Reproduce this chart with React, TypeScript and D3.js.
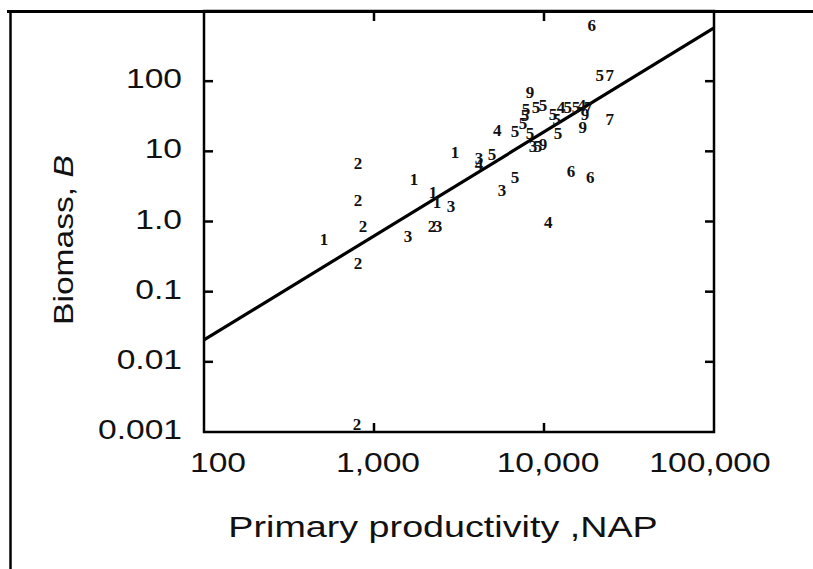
import React from 'react'
import * as d3 from 'd3'

// NAP (x) / biomass B (y) readings, label = group number drawn at the point
const napValues = [
  805, 1718, 2995, 805, 2223, 2350, 2837, 861, 2193, 2377, 508, 1585, 805, 794,
  4150, 4940, 4150, 8280, 8980, 9860, 7830, 7730, 7520, 5300, 6750, 8280, 8610,
  9220, 9860, 6750, 5660, 14400, 18700, 16900, 24400, 12100, 11300, 12600, 13800,
  15400, 16700, 18200, 17400, 21300, 24400, 19100, 10600, 11900
]
const biomassValues = [
  6.8, 4.0, 9.5, 2.0, 2.55, 1.84, 1.61, 0.835, 0.835, 0.835, 0.545, 0.62, 0.256,
  0.00126, 8.0, 8.9, 6.4, 70, 41.5, 45.7, 40, 31.9, 25.3, 20.1, 18.9, 18.2, 11.9,
  11.9, 12.7, 4.3, 2.81, 5.08, 4.17, 22.2, 28, 18.2, 33, 41.5, 41.5, 41.5, 44.3,
  42.8, 33, 122, 122, 631, 0.953, 28
]
const groupLabels = [
  '2', '1', '1', '2', '1', '1', '3', '2', '2', '3', '1', '3', '2', '2',
  '3', '5', '4', '9', '5', '5', '5', '5', '5', '4', '5', '5', '3',
  '5', '9', '5', '3', '6', '6', '9', '7', '5', '5', '4', '5', '5', '4',
  '7', '9', '5', '7', '6', '4', '5'
]

// fitted line end points
const fitX = [100, 100000]
const fitY = [0.0205, 573]

const xTickValues = [100, 1000, 10000, 100000]
const xTickLabels = ['100', '1,000', '10,000', '100,000']
const yTickValues = [0.001, 0.01, 0.1, 1, 10, 100]
const yTickLabels = ['0.001', '0.01', '0.1', '1.0', '10', '100']

const W = 813
const H = 569
const left = 204
const right = 714
const top = 11
const bottom = 432

const sans = '"Liberation Sans", Arial, Helvetica, sans-serif'
const stretch = 1.2

const App = () => {
  const x = d3.scaleLog().domain([100, 100000]).range([left, right])
  const y = d3.scaleLog().domain([0.001, 1000]).range([bottom, top])

  const fitLine = d3.line<number>()
    .x((d, i) => x(fitX[i]))
    .y((d, i) => y(fitY[i]))

  const innerTicks = [1000, 10000]
  const sideTicks = [0.01, 0.1, 1, 10, 100]

  return (
    <svg width={W} height={H} style={{ position: 'absolute', left: 0, top: 0, background: '#fff' }}>
      {/* page frame */}
      <line x1={7} x2={W} y1={11.5} y2={11.5} stroke="#000" strokeWidth={3} />
      <line x1={10.5} x2={10.5} y1={10} y2={H} stroke="#000" strokeWidth={2.5} />

      {/* plot box */}
      <rect x={left} y={top} width={right - left} height={bottom - top}
        fill="none" stroke="#000" strokeWidth={2.5} />

      {sideTicks.map(v => (
        <g key={'yt' + v}>
          <line x1={left} x2={left + 9} y1={y(v)} y2={y(v)} stroke="#000" strokeWidth={2.5} />
          <line x1={right} x2={right - 9} y1={y(v)} y2={y(v)} stroke="#000" strokeWidth={2.5} />
        </g>
      ))}
      {innerTicks.map(v => (
        <g key={'xt' + v}>
          <line x1={x(v)} x2={x(v)} y1={bottom} y2={bottom - 9} stroke="#000" strokeWidth={2.5} />
          <line x1={x(v)} x2={x(v)} y1={top} y2={top + 10} stroke="#000" strokeWidth={2.5} />
        </g>
      ))}

      {/* y tick labels */}
      {yTickValues.map((v, i) => (
        <text key={'yl' + v}
          transform={`translate(182,${y(v) + 7}) scale(${stretch},1)`}
          textAnchor="end" fontFamily={sans} fontSize={28} fill="#111">
          {yTickLabels[i]}
        </text>
      ))}

      {/* x tick labels */}
      {xTickValues.map((v, i) => {
        const dx = i === 0 ? 14 : i === xTickValues.length - 1 ? -4 : 4
        return (
          <text key={'xl' + v}
            transform={`translate(${x(v) + dx},472) scale(${stretch},1)`}
            textAnchor="middle" fontFamily={sans} fontSize={28} fill="#111">
            {xTickLabels[i]}
          </text>
        )
      })}

      {/* axis titles */}
      <text transform={`translate(73,240) rotate(-90) scale(${stretch},1)`}
        textAnchor="middle" fontFamily={sans} fontSize={28} fill="#111">
        Biomass, <tspan fontStyle="italic">B</tspan>
      </text>
      <text transform={`translate(443,537) scale(1.3,1)`}
        textAnchor="middle" fontFamily={sans} fontSize={29} fill="#111">
        Primary productivity ,NAP
      </text>

      {/* regression line */}
      <path d={fitLine(fitX) || ''} fill="none" stroke="#000" strokeWidth={3.2} />

      {/* numbered points */}
      {napValues.map((v, i) => (
        <text key={'p' + i} x={x(v)} y={y(biomassValues[i])}
          textAnchor="middle" dominantBaseline="central"
          fontFamily='"Liberation Serif", "Times New Roman", serif'
          fontWeight="bold" fontSize={17} fill="#111">
          {groupLabels[i]}
        </text>
      ))}
    </svg>
  )
}

export default App
